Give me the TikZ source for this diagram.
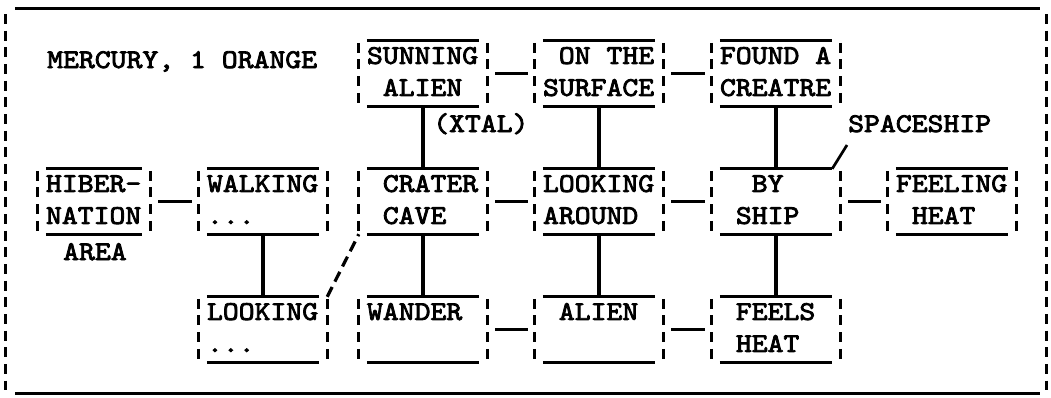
\documentclass[tikz,border=0pt]{standalone}
\usepackage{fontspec}
% typewriter face, slightly widened and darkened
\newfontfamily\typer[FakeStretch=1.12,FakeBold=3]{lmmono10-regular.otf}
\newcommand\chs{\hphantom{X}}
\begin{document}
\begin{tikzpicture}[x=1pt,y=-1pt,
  every node/.style={font=\typer\fontsize{27}{32}\selectfont, text=black},
  tbox/.style={inner xsep=8pt, inner ysep=0pt, text width=112pt,
               minimum height=65pt, align=left},
  narrow/.style={text width=96pt},
  rule/.style={line width=2.7pt},
  side/.style={line width=3pt, dash pattern=on 10pt off 6.67pt},
  hlink/.style={line width=2.5pt, shorten <=8pt, shorten >=7pt},
  vlink/.style={line width=3.2pt},
  diag/.style={line width=3.2pt, dash pattern=on 11pt off 6pt},
  tag/.style={inner sep=0pt, anchor=base west}]

\useasboundingbox (0,0) rectangle (1051,397);

% outer frame
\draw[line width=3pt] (15,8) -- (1040,8);
\draw[line width=3pt] (15,393) -- (1040,393);
\draw[side] (5,14) -- (5,390);
\draw[side] (1046,14) -- (1046,390);

% boxes
\node[tbox,narrow] (hib) at (94,201.5) {\strut\mbox{HIBER-}\\\strut\mbox{NATION}};
\node[tbox] (walk)    at (263,201.5) {\strut WALKING\\\strut ...};
\node[tbox] (look)    at (263,329.5) {\strut LOOKING\\\strut ...};
\node[tbox] (sun)     at (423,73.5)  {\strut SUNNING\\\strut\chs ALIEN};
\node[tbox] (crater)  at (423,201.5) {\strut\chs CRATER\\\strut\chs CAVE};
\node[tbox] (wander)  at (423,329.5) {\strut WANDER\\\strut};
\node[tbox] (surf)    at (599,73.5)  {\strut\chs ON\chs THE\\\strut SURFACE};
\node[tbox] (around)  at (599,201.5) {\strut LOOKING\\\strut AROUND};
\node[tbox] (alien)   at (599,329.5) {\strut\chs ALIEN\\\strut};
\node[tbox] (found)   at (776,73.5)  {\strut FOUND\chs A\\\strut CREATRE};
\node[tbox] (ship)    at (776,201.5) {\strut\chs\chs BY\\\strut\chs SHIP};
\node[tbox] (feels)   at (776,329.5) {\strut\chs FEELS\\\strut\chs HEAT};
\node[tbox] (feeling) at (952,201.5) {\strut FEELING\\\strut\chs HEAT};

% free labels
\node[tag] (mercury)   at (47,68)   {MERCURY, 1 ORANGE};
\node[tag] (xtal)      at (433,132) {(XTAL)};
\node[tag] (spaceship) at (848,132) {SPACESHIP};
\node[tag] (area)      at (63,260)  {AREA};

% box outlines: solid top and bottom rules, broken sides
\foreach \n in {hib,walk,look,sun,crater,wander,surf,around,alien,found,ship,feels,feeling}{
  \draw[rule] ([xshift=8pt]\n.north west) -- ([xshift=-8pt]\n.north east);
  \draw[rule] ([xshift=8pt]\n.south west) -- ([xshift=-8pt]\n.south east);
  \draw[side] ([yshift=-2pt]\n.north west) -- ([yshift=2pt]\n.south west);
  \draw[side] ([yshift=-2pt]\n.north east) -- ([yshift=2pt]\n.south east);
}

% horizontal links
\draw[hlink] (hib) -- (walk);
\draw[hlink] (sun) -- (surf);
\draw[hlink] (surf) -- (found);
\draw[hlink] (crater) -- (around);
\draw[hlink] (around) -- (ship);
\draw[hlink] (ship) -- (feeling);
\draw[hlink] (wander) -- (alien);
\draw[hlink] (alien) -- (feels);

% vertical links
\draw[vlink] (sun) -- (crater);
\draw[vlink] (surf) -- (around);
\draw[vlink] (found) -- (ship);
\draw[vlink] (walk) -- (look);
\draw[vlink] (crater) -- (wander);
\draw[vlink] (around) -- (alien);
\draw[vlink] (ship) -- (feels);

% broken diagonal link
\draw[diag] (look.north east) -- (crater.south west);

% spaceship pointer
\coordinate (shiptip) at (847,145);
\draw[rule] ([xshift=-8pt]ship.north east) -- (shiptip);
\end{tikzpicture}
\end{document}
